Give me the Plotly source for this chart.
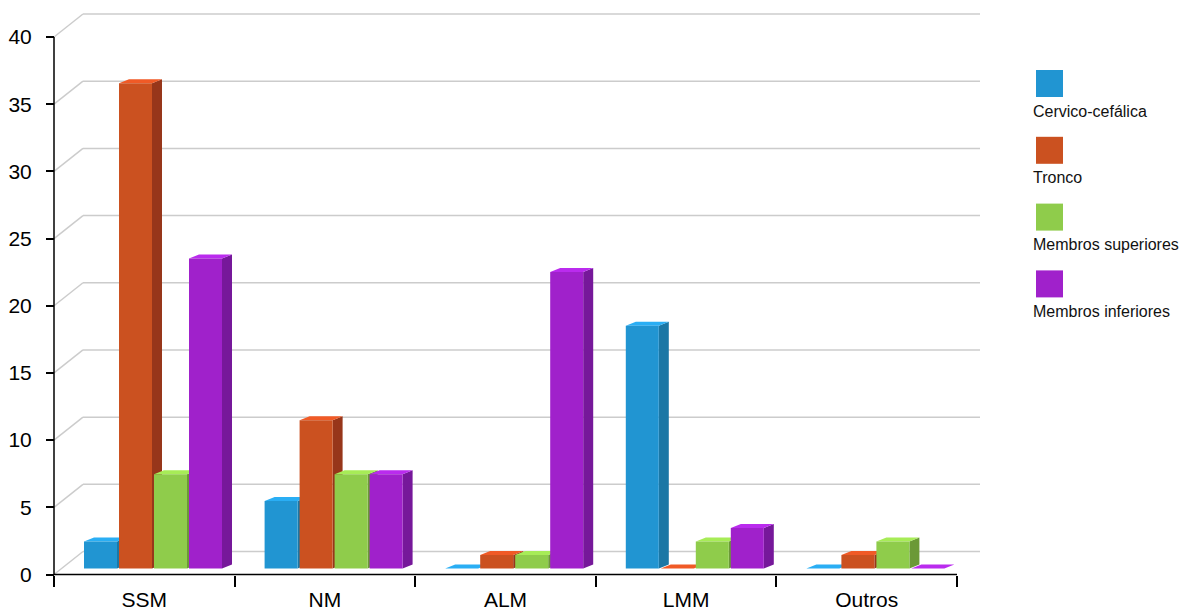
import plotly.graph_objects as go

# Data
CATEGORIES = ["SSM", "NM", "ALM", "LMM", "Outros"]
SERIES = ["Cervico-cefálica", "Tronco", "Membros superiores", "Membros inferiores"]
cervico_cefalica = [2, 5, 0, 18, 0]
tronco = [36, 11, 1, 0, 1]
membros_superiores = [7, 7, 1, 2, 2]
membros_inferiores = [23, 7, 22, 3, 0]
Y_TICKS = [0, 5, 10, 15, 20, 25, 30, 35, 40]

values = [cervico_cefalica, tronco, membros_superiores, membros_inferiores]

# face colours per series: front, top, side
FRONT = ["#2195d2", "#cb5120", "#8fcc4b", "#a021cb"]
TOP = ["#2aaef4", "#f05a26", "#a7ec57", "#ba2bee"]
SIDE = ["#1b77a5", "#97361a", "#6b9937", "#76189a"]

W, H = 1180, 609
PX_X = 180.6      # pixels per category
PX_Y = 13.4375    # pixels per unit on the value axis
PX_BAR = 13.48    # pixels per unit on the bar plane (slightly nearer the viewer)
X0, Y0 = 54, 574.5  # pixel position of the axis origin
BAR_BASE = 568.5    # pixel row of the bar fronts' bottom edge

# plot area in pixels
PL, PR, PT, PB = 45, 995, 8, 592

# wall depth and bar depth (in axis units)
WALL_DX, WALL_DY = 29 / PX_X, 23 / PX_Y
BAR_DX, BAR_DY = 10 / PX_X, 4 / PX_BAR
BAR_W = 33 / PX_X
PITCH = 35 / PX_X
GROUP_LEFT = 30 / PX_X
BACK_END = (980 - X0) / PX_X

fig = go.Figure()

shapes = []
grid = dict(color="#cccccc", width=1.5)
for t in Y_TICKS:
    shapes.append(dict(type="line", xref="x", yref="y", x0=0, y0=t,
                       x1=WALL_DX, y1=t + WALL_DY, line=grid, layer="below"))
    shapes.append(dict(type="line", xref="x", yref="y", x0=WALL_DX, y0=t + WALL_DY,
                       x1=BACK_END, y1=t + WALL_DY, line=grid, layer="below"))

# side and top faces, drawn category by category from left to right
for c in range(len(CATEGORIES)):
    for s in range(len(SERIES)):
        v = values[s][c]
        xl = c + GROUP_LEFT + s * PITCH
        xr = xl + BAR_W
        if v > 0:
            shapes.append(dict(
                type="path", xref="x", yref="y2", layer="below",
                path=f"M {xr},0 L {xr + BAR_DX},{BAR_DY} L {xr + BAR_DX},{v + BAR_DY} L {xr},{v} Z",
                fillcolor=SIDE[s], line=dict(width=0)))
        shapes.append(dict(
            type="path", xref="x", yref="y2", layer="below",
            path=f"M {xl},{v} L {xl + BAR_DX},{v + BAR_DY} L {xr + BAR_DX},{v + BAR_DY} L {xr},{v} Z",
            fillcolor=TOP[s], line=dict(width=0)))

# front faces
centers = [c + 0.5 for c in range(len(CATEGORIES))]
for s, name in enumerate(SERIES):
    fig.add_trace(go.Bar(
        x=centers, y=values[s], name=name,
        width=BAR_W, offset=GROUP_LEFT + s * PITCH - 0.5,
        marker=dict(color=FRONT[s], line=dict(width=0)),
        xaxis="x", yaxis="y2", showlegend=False,
    ))

# axis lines
axis_line = dict(color="black", width=1.5)
shapes.append(dict(type="line", xref="x", yref="y", x0=0, y0=0, x1=0, y1=40, line=axis_line))
shapes.append(dict(type="line", xref="x", yref="y", x0=0, y0=0, x1=5, y1=0, line=axis_line))

# legend: swatch above its label
annotations = []
LEG_X = 1036
for s, name in enumerate(SERIES):
    top = 70 + s * 66.8
    shapes.append(dict(type="rect", xref="paper", yref="paper",
                       x0=LEG_X / W, x1=(LEG_X + 27) / W,
                       y0=1 - (top + 27) / H, y1=1 - top / H,
                       fillcolor=FRONT[s], line=dict(width=0)))
    annotations.append(dict(xref="paper", yref="paper", x=1031 / W, y=1 - (top + 41) / H,
                            text=name, showarrow=False, xanchor="left", yanchor="middle",
                            font=dict(size=16, color="#111111")))

font_family = "Liberation Sans, Arial, sans-serif"
fig.update_layout(
    width=W, height=H,
    margin=dict(l=0, r=0, t=0, b=0),
    paper_bgcolor="white", plot_bgcolor="rgba(0,0,0,0)",
    barmode="overlay",
    font=dict(family=font_family, color="black"),
    shapes=shapes, annotations=annotations,
    showlegend=False,
    xaxis=dict(
        domain=[PL / W, PR / W],
        range=[(PL - X0) / PX_X, (PR - X0) / PX_X],
        anchor="free", position=1 - Y0 / H,
        tickmode="array", tickvals=centers, ticktext=CATEGORIES,
        ticks="", showgrid=False, zeroline=False, showline=False,
        tickfont=dict(size=21, color="black"),
        ticklabelstandoff=10,
        minor=dict(tickvals=[0, 1, 2, 3, 4, 5], ticks="outside", ticklen=11,
                   tickwidth=1.5, tickcolor="black", showgrid=False),
        automargin=False, fixedrange=True,
    ),
    yaxis=dict(
        domain=[1 - PB / H, 1 - PT / H],
        range=[(Y0 - PB) / PX_Y, (Y0 - PT) / PX_Y],
        anchor="free", position=X0 / W,
        tickmode="array", tickvals=Y_TICKS,
        ticks="outside", ticklen=8, tickwidth=1.5, tickcolor="black",
        showgrid=False, zeroline=False, showline=False,
        tickfont=dict(size=21, color="black"),
        ticklabelstandoff=10,
        automargin=False, fixedrange=True,
    ),
    yaxis2=dict(
        overlaying="y", anchor="x", domain=[1 - PB / H, 1 - PT / H],
        range=[(BAR_BASE - PB) / PX_BAR, (BAR_BASE - PT) / PX_BAR],
        visible=False, fixedrange=True,
    ),
)

fig.write_html("out.html")
